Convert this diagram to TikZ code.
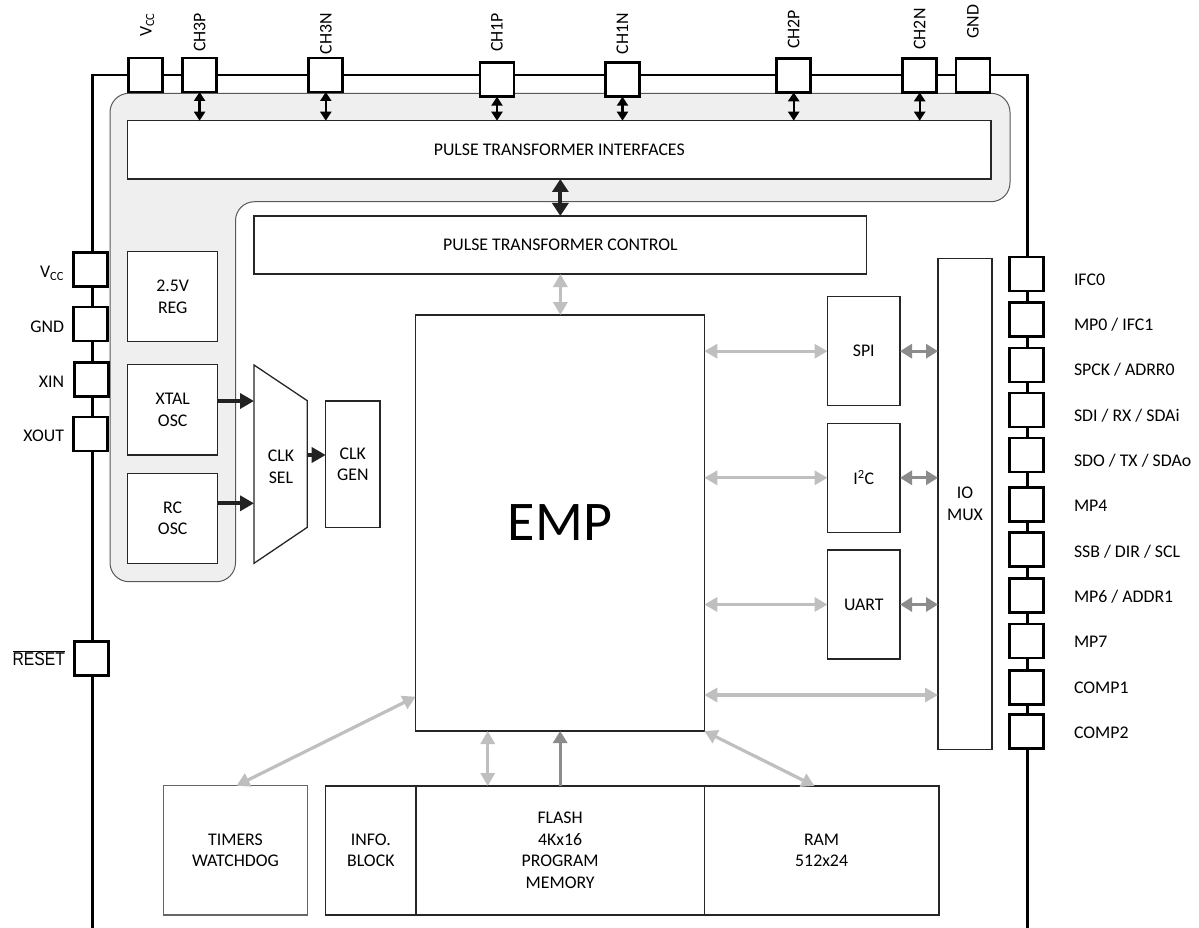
\documentclass[tikz,border=0pt]{standalone}
\usepackage{fontspec}
\setmainfont{Carlito}
\newfontfamily\resetfont{Liberation Sans}
\usetikzlibrary{arrows.meta,calc}
\newcommand\lblfont{\fontsize{17.8}{21.5}\selectfont}
\definecolor{grayfill}{HTML}{EFEFEF}
\definecolor{lightarr}{HTML}{BFBFBF}
\definecolor{midarr}{HTML}{8C8C8C}
\definecolor{darkarr}{HTML}{222222}
% \blockbox[extra options]{name}{x1}{y1}{x2}{y2}{text}
\newcommand\blockbox[7][]{%
  \node[blk, #1, minimum width={#5-#3}, minimum height={#6-#4}] (#2) at ({(#3+#5)/2},{(#4+#6)/2}) {#7};}
\begin{document}
\begin{tikzpicture}[x=1pt,y=-1pt,
  every node/.style={font=\lblfont, inner sep=0pt, outer sep=0pt, align=center},
  blk/.style={draw=black!85, line width=1.3pt, fill=white},
  pinbox/.style={draw=black, line width=2.8pt, fill=white, minimum width=34pt, minimum height=34pt},
  toplbl/.style={rotate=90, anchor=base east},
  leftlbl/.style={anchor=base east},
  rightlbl/.style={anchor=base west},
  ba/.style={{Triangle[length=9pt,width=11pt]}-{Triangle[length=9pt,width=11pt]}, line width=2.4pt, draw=black},
  pa/.style={{Triangle[length=13pt,width=16pt]}-{Triangle[length=13pt,width=16pt]}, line width=4pt, draw=darkarr},
  ca/.style={-{Triangle[length=14pt,width=15pt]}, line width=4pt, draw=darkarr},
  la/.style={{Triangle[length=13pt,width=14pt]}-{Triangle[length=13pt,width=14pt]}, line width=3.2pt, draw=lightarr},
  ma/.style={{Triangle[length=12pt,width=14pt]}-{Triangle[length=12pt,width=14pt]}, line width=3.2pt, draw=midarr},
  mas/.style={-{Triangle[length=12pt,width=14pt]}, line width=3.2pt, draw=midarr}]
\useasboundingbox (0,0) rectangle (1199,928);
\fill[white] (0,0) rectangle (1199,928);

% chip outline
\draw[line width=2.6pt] (92.3,928) -- (92.3,75) -- (1027.7,75) -- (1027.7,928);

% gray L-shaped region
\draw[draw=black!65, fill=grayfill, line width=1pt, rounded corners=19pt]
  (110,93.3) -- (1010,93.3) -- (1010,201.7) -- (235.5,201.7) -- (235.5,581.7) -- (110,581.7) -- cycle;

% top pins
\node[pinbox] (tVCC) at (145.8,75) {};
\node[pinbox] (tCH3P) at (199.6,75) {};
\node[pinbox] (tCH3N) at (325.8,75) {};
\node[pinbox] (tCH1P) at (497,79.7) {};
\node[pinbox] (tCH1N) at (622.5,79.7) {};
\node[pinbox] (tCH2P) at (793.7,75.3) {};
\node[pinbox] (tCH2N) at (919.7,75.3) {};
\node[pinbox] (tGND) at (973,75.3) {};

\node[toplbl] (ltVCC) at (151.5,13) {V\textsubscript{CC}};
\node[toplbl] (ltCH3P) at (205.3,13) {CH3P};
\node[toplbl] (ltCH3N) at (331.5,13) {CH3N};
\node[toplbl] (ltCH1P) at (502.7,13) {CH1P};
\node[toplbl] (ltCH1N) at (628.2,13) {CH1N};
\node[toplbl] (ltCH2P) at (799.4,10) {CH2P};
\node[toplbl] (ltCH2N) at (925.4,8.5) {CH2N};
\node[toplbl] (ltGND) at (978.7,5) {GND};

% left pins
\node[pinbox] (lVCC) at (90.8,269.7) {};
\node[pinbox] (lGND) at (90.8,324) {};
\node[pinbox] (lXIN) at (91.3,379.7) {};
\node[pinbox] (lXOUT) at (90.8,433.9) {};
\node[pinbox] (lRESET) at (91.7,658.3) {};

\node[leftlbl] (llVCC) at (64,277.7) {V\textsubscript{CC}};
\node[leftlbl] (llGND) at (64,332.2) {GND};
\node[leftlbl] (llXIN) at (64,387.7) {XIN};
\node[leftlbl] (llXOUT) at (64,441.2) {XOUT};
\node[anchor=east] (llRESET) at (65,658.3) {\scalebox{0.85}[1]{$\overline{\hbox{\resetfont\fontsize{18.5}{20}\selectfont RESET}}$}};

% right pins
\foreach \yy/\nm in {274/r0,319.3/r1,365/r2,410/r3,455/r4,504.7/r5,549.3/r6,595.7/r7,641/r8,687.3/r9,731.7/r10}
  \node[pinbox] (\nm) at (1026.7,\yy) {};

\node[rightlbl] (lr0) at (1074,285.2) {IFC0};
\node[rightlbl] (lr1) at (1074,330.5) {MP0 / IFC1};
\node[rightlbl] (lr2) at (1074,375.9) {SPCK / ADRR0};
\node[rightlbl] (lr3) at (1074,421.2) {SDI / RX / SDAi};
\node[rightlbl] (lr4) at (1074,466.5) {SDO / TX / SDAo};
\node[rightlbl] (lr5) at (1074,511.9) {MP4};
\node[rightlbl] (lr6) at (1074,557.2) {SSB / DIR / SCL};
\node[rightlbl] (lr7) at (1074,602.5) {MP6 / ADDR1};
\node[rightlbl] (lr8) at (1074,647.8) {MP7};
\node[rightlbl] (lr9) at (1074,693.2) {COMP1};
\node[rightlbl] (lr10) at (1074,738.5) {COMP2};

% blocks
\blockbox{PTI}{127.5}{120.7}{991}{179}{PULSE TRANSFORMER INTERFACES}
\blockbox{PTC}{254}{216}{866.7}{274}{PULSE TRANSFORMER CONTROL}
\blockbox{REG}{127.7}{251.7}{217.7}{341.7}{2.5V\\REG}
\blockbox{XTAL}{127.7}{364.3}{217.7}{455}{XTAL\\OSC}
\blockbox{RC}{127.7}{473.3}{217.7}{563.3}{RC\\OSC}
\draw[draw=black!85, line width=1.3pt, fill=white] (254,365) -- (307.3,400.7) -- (307.3,527.3) -- (254,563.3) -- cycle;
\node (CLKSEL) at (281,467) {CLK\\SEL};
\coordinate (selA) at (254,401);
\coordinate (selB) at (254,503.3);
\coordinate (selO) at (307.3,455);
\blockbox{CLKGEN}{325.7}{401}{380}{527.3}{CLK\\GEN}
\blockbox[font=\fontsize{56}{60}\selectfont]{EMP}{415.7}{315}{704.3}{731}{EMP}
\blockbox{SPI}{827.5}{296.7}{900}{405.7}{SPI}
\blockbox{I2C}{827.5}{423.3}{900}{532.3}{I\textsuperscript{2}C}
\blockbox{UART}{827.5}{550}{900}{659}{UART}
\blockbox{IOMUX}{938}{258.3}{992}{749.5}{IO\\MUX}
\blockbox[draw=black!60]{TIMERS}{163.3}{785.7}{307.7}{915}{TIMERS\\WATCHDOG}
\blockbox{INFO}{325.7}{786}{416}{915}{INFO.\\BLOCK}
\blockbox{FLASH}{416}{786}{704.3}{915}{FLASH\\4Kx16\\PROGRAM\\MEMORY}
\blockbox{RAM}{704.3}{786}{938.9}{915}{RAM\\512x24}

% pin arrows
\foreach \p in {tCH3P,tCH3N,tCH1P,tCH1N,tCH2P,tCH2N}
  \draw[ba] (\p.south) -- (\p.south |- PTI.north);

\draw[pa] (PTI.south -| PTC.north) -- (PTC.north);
\draw[la] (PTC.south) -- (PTC.south |- EMP.north);

% clock arrows
\draw[ca] (XTAL.east |- selA) -- (selA);
\draw[ca] (RC.east |- selB) -- (selB);
\draw[ca] (selO) -- (selO -| CLKGEN.west);

% EMP peripherals
\draw[la] (EMP.east |- SPI.west) -- (SPI.west);
\draw[la] (EMP.east |- I2C.west) -- (I2C.west);
\draw[la] (EMP.east |- UART.west) -- (UART.west);
\draw[ma] (SPI.east) -- (SPI.east -| IOMUX.west);
\draw[ma] (I2C.east) -- (I2C.east -| IOMUX.west);
\draw[ma] (UART.east) -- (UART.east -| IOMUX.west);
\coordinate (em) at ([yshift=36pt]EMP.south east);
\draw[la] (em) -- (em -| IOMUX.west);

% bottom
\coordinate (et) at ([yshift=34.3pt]EMP.south west);
\draw[la] (et) -- ([xshift=1pt]TIMERS.north);
\draw[la] (EMP.south east) -- ([xshift=-7pt]RAM.north);
\coordinate (fl) at ([xshift=-72.4pt]FLASH.north);
\draw[la] (fl) -- (fl |- EMP.south);
\draw[mas] (FLASH.north) -- (FLASH.north |- EMP.south);
\end{tikzpicture}
\end{document}
